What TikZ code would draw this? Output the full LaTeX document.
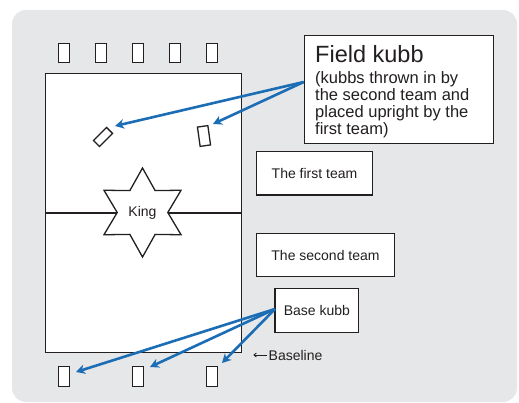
\documentclass[tikz,border=0pt]{standalone}
\usepackage{fontspec}
\setmainfont{Liberation Sans}
\usetikzlibrary{shapes.geometric,arrows.meta}
\definecolor{panel}{HTML}{E6E7E8}
\definecolor{ink}{HTML}{231F20}
\definecolor{arrowblue}{HTML}{1B6DB5}
\tikzset{
  kubb/.style={draw=ink, fill=white, line width=1.3pt, minimum width=10.5pt, minimum height=19.5pt, inner sep=0pt},
  labelbox/.style={draw=ink, fill=white, line width=1.3pt, inner sep=0pt, text=ink, font=\fontsize{14}{16}\selectfont},
  throw/.style={draw=arrowblue, line width=2.6pt, -{Stealth[length=9pt, width=9.5pt, inset=2.8pt]}},
}
\begin{document}
\begin{tikzpicture}[x=1pt, y=-1pt]
\useasboundingbox (0,0) rectangle (519,403);
% grey panel
\fill[panel, rounded corners=14pt] (12,10) rectangle (517,402);
% playing field with centre line
\node[draw=ink, fill=white, line width=1.3pt, minimum width=196pt, minimum height=279pt, inner sep=0pt, anchor=north west] (field) at (45,73) {};
\draw[ink, line width=1.3pt] (field.west) -- (field.east);
% king
\node[star, star points=6, star point ratio=1.76, minimum size=89pt, inner sep=0pt, draw=ink, fill=white, line width=1.3pt, text=ink, font=\fontsize{14}{16}\selectfont] (king) at (142.5,212.5) {King};
% baseline kubbs of the far team
\foreach \i/\x in {1/64,2/101,3/138,4/175,5/212}
  \node[kubb] (top\i) at (\x,53) {};
% field kubbs
\node[kubb, minimum width=18.5pt, minimum height=8.5pt, rotate=45] (fk1) at (103,137) {};
\node[kubb, rotate=8] (fk2) at (204,136) {};
% base kubbs of the near team
\foreach \i/\x in {1/64,2/138,3/212}
  \node[kubb] (bot\i) at (\x,376.5) {};
% label boxes
\node[draw=ink, fill=white, line width=1.3pt, inner sep=0pt, minimum width=189pt, minimum height=108pt, anchor=north west] (fieldbox) at (303.7,35) {};
\node[anchor=base west, inner sep=0pt, text=ink, font=\fontsize{23.5}{26}\selectfont] (fieldtitle) at (315,63) {Field kubb};
\node[anchor=base west, inner sep=0pt, text=ink, align=left, font=\fontsize{16.5}{17}\selectfont] (fieldnote) at (315,134.3) {(kubbs thrown in by\\the second team and\\placed upright by the\\first team)};
\node[labelbox, minimum width=115.6pt, minimum height=43.3pt] (first) at (314.5,173.3) {The first team};
\node[labelbox, minimum width=137.6pt, minimum height=43.4pt] (second) at (325.5,255) {The second team};
\node[labelbox, minimum width=83.7pt, minimum height=43.6pt] (basebox) at (316.85,310.5) {Base kubb};
% baseline marker
\coordinate (blstart) at (266.7,355);
\coordinate (blend) at (253.3,355);
\draw[ink, line width=0.8pt, -{Straight Barb[length=2.5pt, width=4pt]}] (blstart) -- (blend);
\node[anchor=base west, inner sep=0pt, text=ink, font=\fontsize{14}{16}\selectfont] (baselinelabel) at (268.5,360) {Baseline};
% throwing arrows
\coordinate (fkfrom) at (303.7,82);
\coordinate (fk1tip) at (115,126);
\coordinate (fk2tip) at (213,124);
\draw[throw] (fkfrom) -- (fk1tip);
\draw[throw] (fkfrom) -- (fk2tip);
\coordinate (bkfrom) at (275,309);
\coordinate (bk1tip) at (76,372);
\coordinate (bk2tip) at (150,367);
\coordinate (bk3tip) at (222,363);
\draw[throw] (bkfrom) -- (bk1tip);
\draw[throw] (bkfrom) -- (bk2tip);
\draw[throw] (bkfrom) -- (bk3tip);
\end{tikzpicture}
\end{document}
